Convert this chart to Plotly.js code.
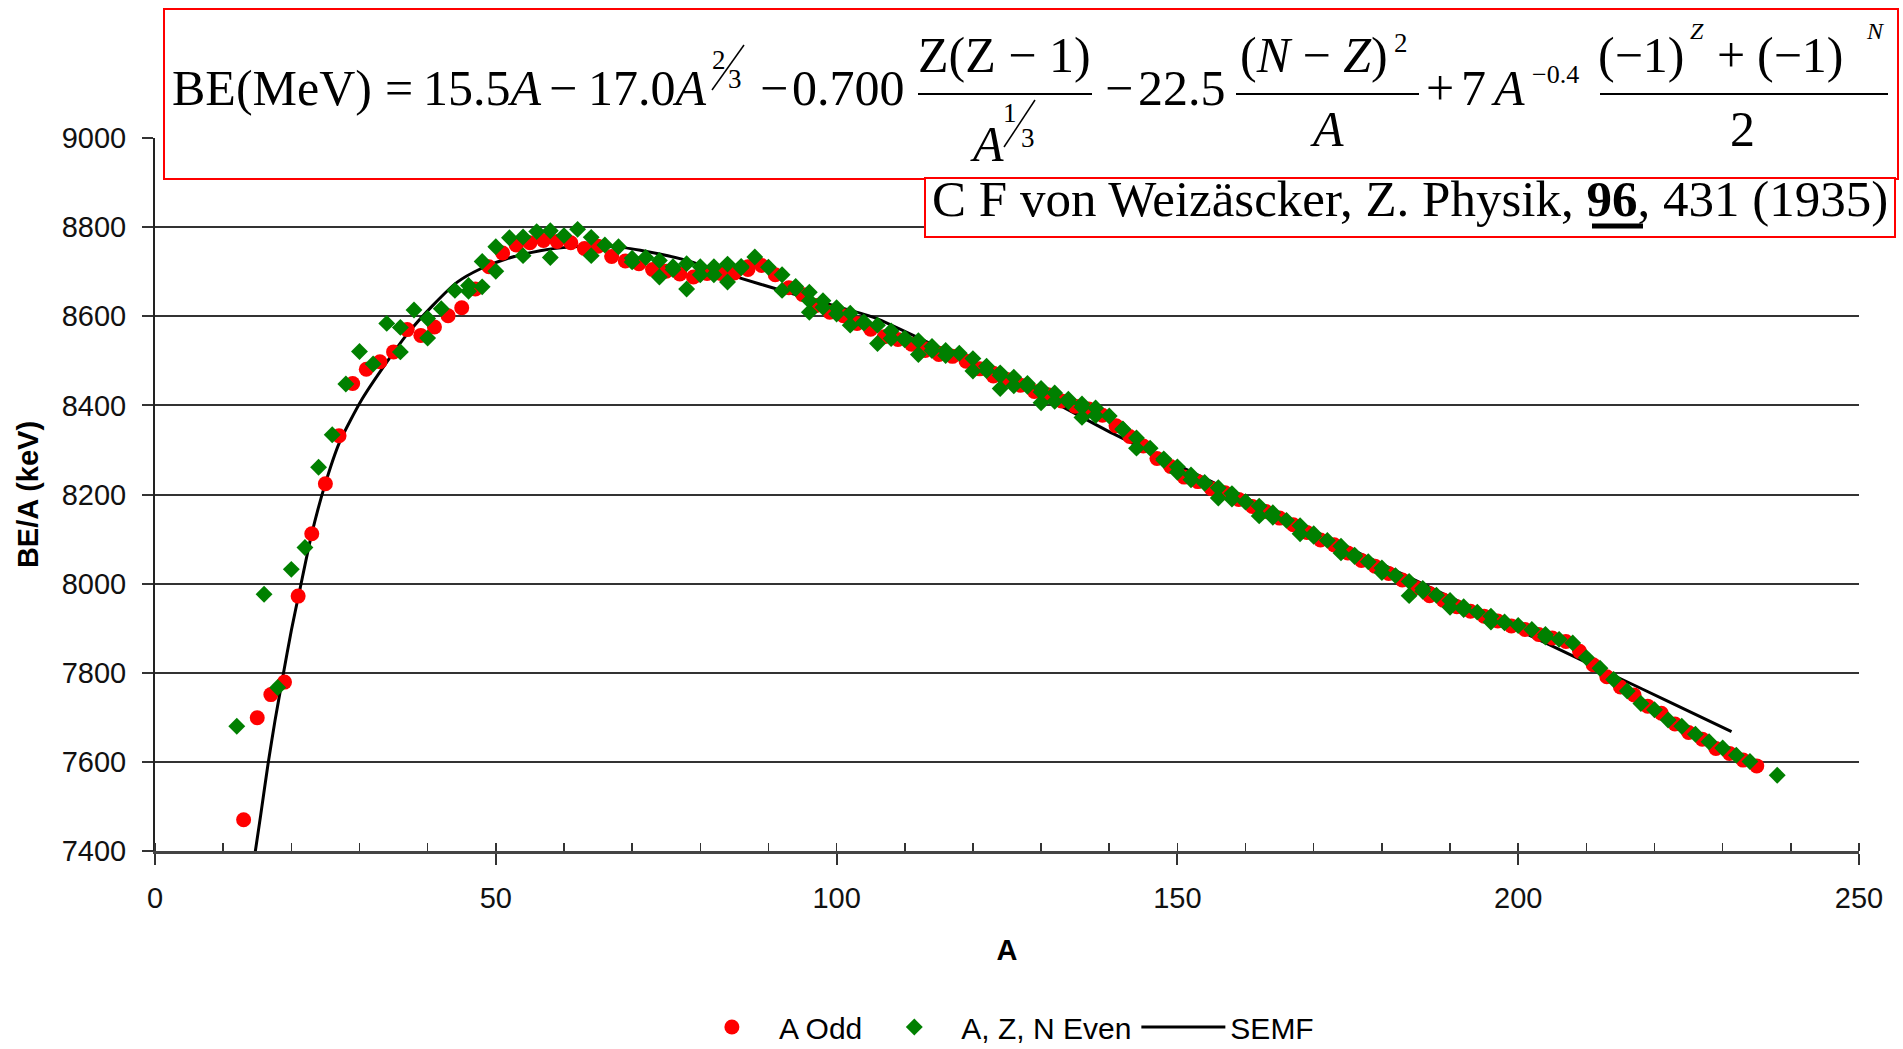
<!DOCTYPE html>
<html><head><meta charset="utf-8">
<script src="https://cdn.plot.ly/plotly-3.0.1.min.js"></script>
<style>html,body{margin:0;padding:0;background:#fff;}#chart{width:1903px;height:1049px;}</style>
</head><body><div id="chart"></div>
<script>
// ---- data (BE per nucleon, keV) ----
const oddA = [13,15,17,19,21,23,25,27,29,31,33,35,37,39,41,43,45,47,49,51,53,55,57,59,61,63,65,67,69,71,73,75,77,79,81,83,85,87,87,89,91,93,95,97,99,101,103,105,107,109,111,113,113,115,115,117,119,121,123,123,125,127,129,131,133,135,137,139,141,143,145,147,149,151,153,155,157,159,161,163,165,167,169,171,173,175,177,179,181,183,185,187,187,189,191,193,195,197,199,201,203,205,207,209,211,213,215,217,219,221,223,225,227,229,231,233,235];
const oddBE = [7470,7699,7751,7779,7972,8112,8224,8332,8449,8481,8498,8520,8570,8557,8576,8601,8619,8661,8711,8742,8760,8765,8770,8768,8765,8752,8757,8734,8724,8718,8705,8701,8695,8688,8696,8696,8697,8705,8711,8714,8693,8664,8649,8624,8609,8601,8584,8571,8554,8548,8537,8527,8523,8517,8514,8510,8499,8482,8472,8466,8458,8445,8431,8424,8410,8398,8392,8378,8354,8330,8309,8281,8263,8239,8229,8213,8204,8189,8173,8162,8147,8132,8115,8098,8087,8069,8052,8039,8023,8008,7991,7973,7978,7963,7948,7938,7927,7916,7905,7897,7886,7878,7870,7848,7818,7791,7768,7750,7725,7709,7685,7666,7651,7630,7619,7604,7591];

const evenA = [12,16,18,20,22,24,26,28,30,32,34,36,36,38,40,40,42,44,46,46,48,48,50,50,52,54,54,56,58,58,60,62,64,64,66,68,70,70,72,74,74,76,76,78,78,80,80,82,82,84,84,86,86,88,90,92,92,94,94,96,96,96,98,98,100,100,102,102,104,104,106,106,108,108,110,110,112,112,114,114,116,116,118,120,120,122,122,124,124,124,126,126,128,128,130,130,130,132,132,134,134,136,136,136,138,138,140,142,142,144,144,146,148,148,150,150,152,152,154,154,156,156,158,158,160,160,162,162,164,164,166,168,168,170,170,172,174,174,176,176,178,180,180,182,184,184,186,186,188,190,190,192,192,194,196,196,198,198,200,202,204,204,206,208,210,212,214,216,218,220,222,224,226,228,230,232,234,238];
const evenBE = [7680,7976,7767,8032,8081,8261,8334,8448,8521,8493,8584,8575,8520,8614,8595,8551,8617,8658,8669,8656,8666,8723,8756,8701,8776,8778,8736,8790,8792,8732,8781,8795,8777,8736,8760,8756,8730,8722,8732,8725,8688,8705,8711,8718,8661,8711,8693,8693,8711,8717,8677,8712,8709,8733,8710,8693,8658,8667,8662,8635,8654,8609,8635,8620,8605,8619,8607,8580,8587,8585,8580,8539,8567,8550,8547,8551,8545,8514,8532,8523,8512,8523,8517,8505,8477,8488,8478,8467,8473,8438,8463,8444,8449,8443,8430,8438,8406,8428,8409,8414,8408,8396,8403,8373,8394,8377,8376,8347,8346,8327,8304,8304,8277,8280,8250,8262,8244,8233,8227,8225,8215,8192,8202,8190,8183,8184,8174,8152,8159,8149,8142,8130,8112,8112,8106,8097,8084,8069,8064,8061,8049,8035,8025,8018,8005,7973,7989,7983,7974,7962,7947,7948,7942,7936,7927,7914,7914,7912,7906,7897,7886,7880,7875,7867,7834,7810,7785,7759,7731,7717,7694,7680,7662,7645,7631,7615,7601,7570];

const semfA  = [14.6,15.5,16.6,17.6,18.8,20,21.3,23,24.9,27.1,30.3,34.0,37.0,40.8,44.3,47.7,51.6,56.5,59.9,64,68.7,71.2,77.6,86.0,91.7,100,105.7,115,125,132.1,140.5,150,160,170,180,190,200,204.7,214.4,222,231.3];
const semfBE = [7387,7480,7597,7692,7795,7895,7990,8112,8220,8318,8412,8497,8560,8625,8676,8706,8729,8747,8754,8757,8754,8748,8727,8685,8659,8622,8596,8530,8458,8405,8337,8266,8192,8118,8044,7970,7896,7862,7791,7736,7668];

const seriesNames = ['A Odd', 'A, Z, N Even', 'SEMF'];
const yTitle = 'BE/A (keV)';
const xTitle = 'A';

// ---- geometry helpers (pixel -> paper) ----
const L = 155, R = 1859, T = 138, B = 851;
const px = x => (x - L) / (R - L);
const py = y => (B - y) / (B - T);
const SERIF = '"Liberation Serif", "Times New Roman", serif';
const SANS = 'Arial, "Liberation Sans", sans-serif';

function txt(text, x, base, size, anchor) {
  return {xref:'paper', yref:'paper', x:px(x), y:py(base + 0.216*size + 1),
    xanchor: anchor || 'left', yanchor:'bottom', text:text, showarrow:false,
    font:{family:SERIF, size:size, color:'black'}};
}
function hline(x0, x1, y, w) {
  return {type:'line', xref:'paper', yref:'paper', x0:px(x0), x1:px(x1), y0:py(y), y1:py(y),
    line:{color:'black', width:w || 2}, layer:'above'};
}
function seg(x0, y0, x1, y1) {
  return {type:'line', xref:'paper', yref:'paper', x0:px(x0), x1:px(x1), y0:py(y0), y1:py(y1),
    line:{color:'black', width:1.5}, layer:'above'};
}
function box(x0, y0, x1, y1) {
  return {type:'rect', xref:'paper', yref:'paper', x0:px(x0), x1:px(x1), y0:py(y1), y1:py(y0),
    line:{color:'#FF0000', width:2}, fillcolor:'white', layer:'above'};
}

const F = 50;
const annotations = [
  txt('BE(MeV)', 170, 106, F),
  txt('=', 383, 106, F),
  txt('15.5<i>A</i>', 421, 106, F),
  txt('\u2212', 547, 106, F),
  txt('17.0<i>A</i>', 586, 106, F),
  txt('2', 710, 70, 27),
  txt('3', 726, 89, 27),
  txt('\u2212', 758, 106, F),
  txt('0.700', 790, 106, F),
  txt('Z(Z \u2212 1)', 1004, 73, F, 'center'),
  txt('<i>A</i>', 968, 162, F),
  txt('1', 1001, 123, 27),
  txt('3', 1019, 148, 27),
  txt('\u2212', 1103, 106, F),
  txt('22.5', 1136, 106, F),
  txt('(<i>N</i> \u2212 <i>Z</i>)', 1238, 73, F),
  txt('2', 1392, 53, 27),
  txt('<i>A</i>', 1327, 147, F, 'center'),
  txt('+', 1424, 106, F),
  txt('7', 1459, 106, F),
  txt('<i>A</i>', 1489, 106, F),
  txt('\u22120.4', 1530, 84, 26),
  txt('(\u22121)', 1596, 73, F),
  txt('<i>Z</i>', 1688, 40, 24),
  txt('+', 1715, 73, F),
  txt('(\u22121)', 1755, 73, F),
  txt('<i>N</i>', 1864, 40, 24),
  txt('2', 1742, 147, F, 'center'),
  txt('C F von Weiz\u00e4scker, Z. Physik, <b>96</b>, 431 (1935)', 1410, 217, 51, 'center')
];

const shapes = [
  box(164, 9, 1898, 179),
  box(925, 178, 1895, 237),
  hline(918, 1092, 94),
  hline(1236, 1419, 94),
  hline(1600, 1888, 94),
  hline(1592, 1643, 226, 5),
  seg(744, 45, 712, 90),
  seg(1035, 100, 1004, 147)
];

const traces = [
  {type:'scatter', mode:'lines', name:seriesNames[2], x:semfA, y:semfBE,
   line:{color:'black', width:3, shape:'spline', smoothing:0.6}, legendrank:3},
  {type:'scatter', mode:'markers', name:seriesNames[0], x:oddA, y:oddBE,
   marker:{symbol:'circle', size:15, color:'#FF0000'}, legendrank:1},
  {type:'scatter', mode:'markers', name:seriesNames[1], x:evenA, y:evenBE,
   marker:{symbol:'diamond', size:13, color:'#008000'}, legendrank:2}
];

const layout = {
  width:1903, height:1049, autosize:false,
  margin:{l:L, r:1903-R, t:T, b:1049-B, pad:0, autoexpand:false},
  paper_bgcolor:'white', plot_bgcolor:'white',
  font:{family:SANS, color:'black'},
  showlegend:true,
  legend:{orientation:'h', x:0.497, xanchor:'center', y:py(1027), yanchor:'middle',
    font:{family:SANS, size:30, color:'black'}, itemwidth:84, bgcolor:'rgba(0,0,0,0)'},
  xaxis:{range:[0,250], dtick:50, tick0:0, showgrid:false, zeroline:false,
    showline:true, linecolor:'#444', linewidth:3,
    ticks:'outside', ticklen:11, tickwidth:2, tickcolor:'#333',
    minor:{dtick:10, ticks:'inside', ticklen:8, tickwidth:1.5, tickcolor:'#333', showgrid:false},
    tickfont:{family:SANS, size:29, color:'#111'}, ticklabelstandoff:8,
    title:{text:'<b>'+xTitle+'</b>', font:{family:SANS, size:29, color:'black'}, standoff:27},
    automargin:false, fixedrange:true},
  yaxis:{range:[7400,9000], dtick:200, tick0:7400, showgrid:true, gridcolor:'#333', gridwidth:2,
    zeroline:false, showline:true, linecolor:'#222', linewidth:2,
    ticks:'outside', ticklen:11, tickwidth:2, tickcolor:'#333',
    tickfont:{family:SANS, size:29, color:'#111'}, ticklabelstandoff:10,
    title:{text:'<b>'+yTitle+'</b>', font:{family:SANS, size:29, color:'black'}, standoff:15},
    automargin:false, fixedrange:true},
  annotations:annotations,
  shapes:shapes
};

Plotly.newPlot('chart', traces, layout, {displayModeBar:false, staticPlot:true});
</script></body></html>
